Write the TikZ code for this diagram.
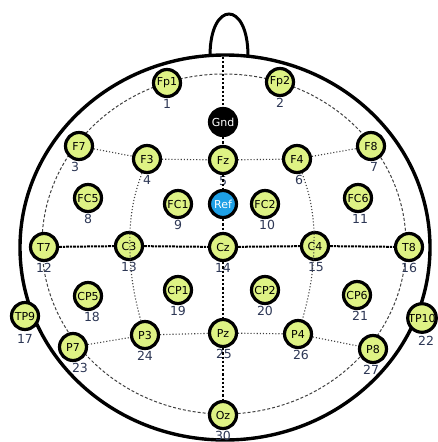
\documentclass[tikz,border=0pt]{standalone}
\usepackage{fontspec}
\setmainfont{DejaVu Sans}
\definecolor{elec}{RGB}{222,242,132}
\definecolor{refblue}{RGB}{30,160,230}
\definecolor{numcol}{RGB}{45,55,85}

\begin{document}
\begin{tikzpicture}[
  x=1pt, y=-1pt,
  enode/.style={circle, draw, line width=3.2pt, minimum size=27pt, inner sep=0pt, fill=elec, font=\fontsize{11}{11}\selectfont},
  num/.style={font=\fontsize{12.5}{13}\selectfont, text=numcol, inner sep=0.5pt},
  grid/.style={gray!50!black, dotted, line width=1.1pt},
  thick
]
  \useasboundingbox (0,0) rectangle (437,442);

  % Kopf
  \draw[line width=3.4pt] (225,247.5) ellipse [x radius=205, y radius=192.5];
  \draw[line width=3pt] (210,56) .. controls (210,0) and (248,0) .. (248,56);
  \draw[gray!50!black, densely dashed, line width=1pt] (224,244) ellipse [x radius=182, y radius=170];

  % Nodes
  \node[enode, label={[num]below:1}] (Fp1) at (167,83) {Fp1};
  \node[enode, label={[num]below:2}] (Fp2) at (280,82) {Fp2};
  \node[enode, fill=black, text=white] (Gnd) at (223,122) {Gnd};

  \node[enode, label={[num, xshift=-4pt]below:3}] (F7) at (79,146) {F7};
  \node[enode, label={[num]below:4}] (F3) at (147,159) {F3};
  \node[enode, label={[num]below:5}] (Fz) at (223,160) {Fz};
  \node[enode, label={[num, xshift=2pt]below:6}] (F4) at (297,159) {F4};
  \node[enode, label={[num, xshift=3pt]below:7}] (F8) at (371,146) {F8};

  \node[enode, label={[num]below:8}] (FC5) at (88,198) {FC5};
  \node[enode, label={[num]below:9}] (FC1) at (178,204) {FC1};
  \node[enode, fill=refblue, text=white] (Ref) at (223,204) {Ref};
  \node[enode, label={[num, xshift=2pt]below:10}] (FC2) at (265,204) {FC2};
  \node[enode, label={[num, xshift=2pt]below:11}] (FC6) at (358,198) {FC6};

  \node[enode, label={[num]below:12}] (T7) at (44,247) {T7};
  \node[enode, label={[num]below:13}] (C3) at (129,246) {C3};
  \node[enode, label={[num]below:14}] (Cz) at (223,247) {Cz};
  \node[enode, label={[num, xshift=1pt]below:15}] (C4) at (315,246) {C4};
  \node[enode, label={[num]below:16}] (T8) at (409,247) {T8};

  \node[enode, label={[num, yshift=-2pt]below:17}] (TP9) at (25,316) {TP9};
  \node[enode, label={[num, xshift=4pt]below:18}] (CP5) at (88,296) {CP5};
  \node[enode, label={[num]below:19}] (CP1) at (178,290) {CP1};
  \node[enode, label={[num]below:20}] (CP2) at (265,290) {CP2};
  \node[enode, label={[num, xshift=3pt]below:21}] (CP6) at (357,295) {CP6};
  \node[enode, label={[num, xshift=4pt, yshift=-1pt]below:22}] (TP10) at (422,318) {TP10};

  \node[enode, label={[num, xshift=7pt]below:23}] (P7) at (73,347) {P7};
  \node[enode, label={[num]below:24}] (P3) at (145,335) {P3};
  \node[enode, label={[num, xshift=1pt]below:25}] (Pz) at (223,333) {Pz};
  \node[enode, label={[num, xshift=3pt]below:26}] (P4) at (298,334) {P4};
  \node[enode, label={[num, xshift=-2pt]below:27}] (P8) at (373,349) {P8};

  \node[enode, label={[num]below:30}] (Oz) at (223,415) {Oz};

  \coordinate (top) at (223,57);

  % Edges
  \draw[line width=2.2pt, dotted] (top) -- (Gnd) -- (Fz) -- (Ref) -- (Cz) -- (Pz) -- (Oz);
  \draw[line width=2pt, densely dashdotted] (T7) -- (C3) -- (Cz) -- (C4) -- (T8);

  \draw[grid] (F7) -- (F3) -- (Fz) -- (F4) -- (F8);
  \draw[grid] (P7) -- (P3) -- (Pz) -- (P4) -- (P8);
  \draw[grid] (F3) to[bend right=8] (C3) to[bend right=8] (P3);
  \draw[grid] (F4) to[bend left=8] (C4) to[bend left=8] (P4);
\end{tikzpicture}
\end{document}
